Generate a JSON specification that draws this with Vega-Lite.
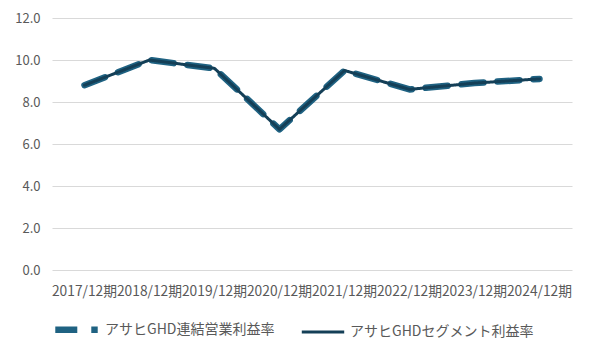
{
  "$schema": "https://vega.github.io/schema/vega-lite/v6.json",
  "width": 520,
  "height": 252,
  "autosize": {"type": "none"},
  "padding": {"left": 52, "top": 18, "right": 18, "bottom": 86},
  "background": "white",
  "config": {
    "font": "Noto Sans CJK JP",
    "view": {"stroke": null},
    "axis": {"labelColor": "#595959", "labelFontSize": 13, "domain": false, "ticks": false, "title": null}
  },
  "data": {"values": [
    {"period": "2017/12期", "series": "アサヒGHD連結営業利益率", "value": 8.8},
    {"period": "2018/12期", "series": "アサヒGHD連結営業利益率", "value": 10.0},
    {"period": "2019/12期", "series": "アサヒGHD連結営業利益率", "value": 9.6},
    {"period": "2020/12期", "series": "アサヒGHD連結営業利益率", "value": 6.7},
    {"period": "2021/12期", "series": "アサヒGHD連結営業利益率", "value": 9.5},
    {"period": "2022/12期", "series": "アサヒGHD連結営業利益率", "value": 8.6},
    {"period": "2023/12期", "series": "アサヒGHD連結営業利益率", "value": 8.9},
    {"period": "2024/12期", "series": "アサヒGHD連結営業利益率", "value": 9.1},
    {"period": "2017/12期", "series": "アサヒGHDセグメント利益率", "value": 8.8},
    {"period": "2018/12期", "series": "アサヒGHDセグメント利益率", "value": 10.0},
    {"period": "2019/12期", "series": "アサヒGHDセグメント利益率", "value": 9.6},
    {"period": "2020/12期", "series": "アサヒGHDセグメント利益率", "value": 6.7},
    {"period": "2021/12期", "series": "アサヒGHDセグメント利益率", "value": 9.5},
    {"period": "2022/12期", "series": "アサヒGHDセグメント利益率", "value": 8.6},
    {"period": "2023/12期", "series": "アサヒGHDセグメント利益率", "value": 8.9},
    {"period": "2024/12期", "series": "アサヒGHDセグメント利益率", "value": 9.1}
  ]},
  "encoding": {
    "x": {"field": "period", "type": "ordinal", "sort": null,
      "scale": {"type": "band", "paddingInner": 0, "paddingOuter": 0},
      "axis": {"labelAngle": 0, "labelOverlap": false, "labelPadding": 14, "labelFontSize": 13.8, "grid": false}},
    "y": {"field": "value", "type": "quantitative",
      "scale": {"domain": [0, 12], "nice": false},
      "axis": {"values": [0, 2, 4, 6, 8, 10, 12], "format": ".1f", "labelPadding": 12, "gridColor": "#d9d9d9", "gridWidth": 1}},
    "color": {"field": "series", "type": "nominal",
      "scale": {"domain": ["アサヒGHD連結営業利益率", "アサヒGHDセグメント利益率"], "range": ["#1f6282", "#143f57"]},
      "legend": {"orient": "none", "legendX": 0, "legendY": 287, "direction": "horizontal", "title": null,
        "labelColor": "#595959", "labelFontSize": 14, "labelLimit": 400, "symbolType": "stroke", "symbolSize": 1800,
        "symbolStrokeWidth": 5, "columnPadding": 20, "labelOffset": 4}},
    "strokeDash": {"field": "series", "type": "nominal",
      "scale": {"domain": ["アサヒGHD連結営業利益率", "アサヒGHDセグメント利益率"], "range": [[22, 14], [1, 0]]}},
    "strokeWidth": {"field": "series", "type": "nominal",
      "scale": {"domain": ["アサヒGHD連結営業利益率", "アサヒGHDセグメント利益率"], "range": [6.5, 3]}, "legend": null}
  },
  "layer": [
    {"transform": [{"filter": "datum.series === 'アサヒGHD連結営業利益率'"}],
     "mark": {"type": "line", "strokeCap": "round", "strokeJoin": "round"}},
    {"transform": [{"filter": "datum.series === 'アサヒGHDセグメント利益率'"}],
     "mark": {"type": "line", "strokeCap": "round", "strokeJoin": "round"}}
  ]
}
